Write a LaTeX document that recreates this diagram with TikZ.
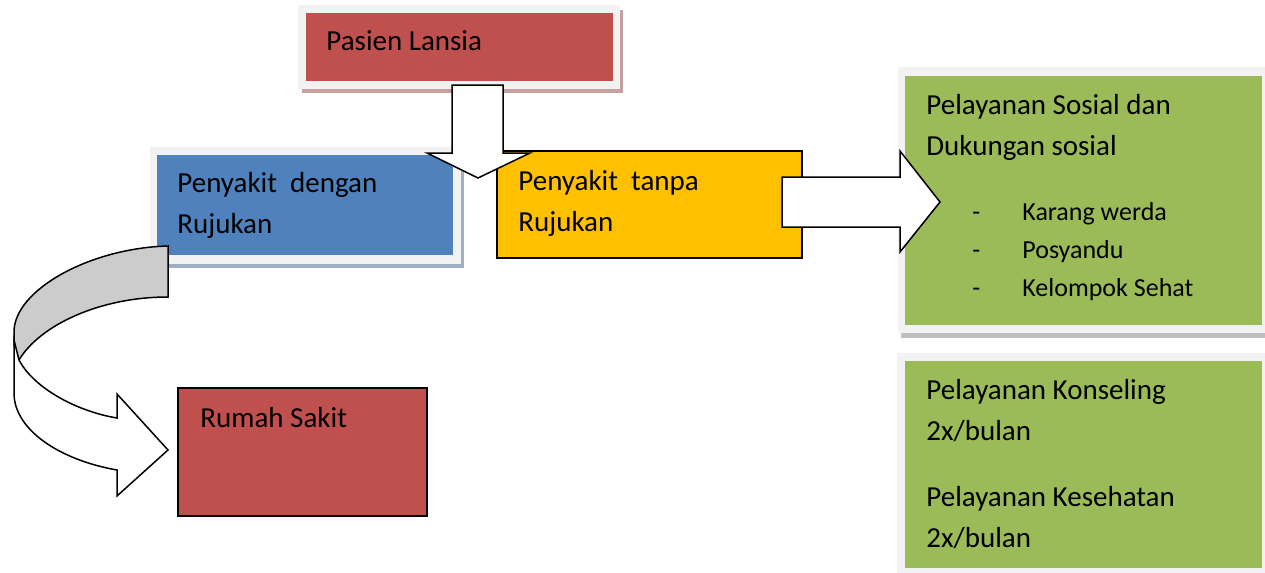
\documentclass[tikz,border=0pt]{standalone}
\usepackage{fontspec}
\setmainfont{Carlito}
\usetikzlibrary{fit}

\definecolor{lansiared}{RGB}{192,80,77}
\definecolor{rujukanblue}{RGB}{79,129,189}
\definecolor{tanpayellow}{RGB}{255,192,0}
\definecolor{sosialgreen}{RGB}{155,187,89}
\definecolor{framegrey}{RGB}{242,242,242}
\definecolor{redshadow}{RGB}{196,160,160}
\definecolor{blueshadow}{RGB}{160,176,196}
\definecolor{greenshadow}{RGB}{191,191,191}
\definecolor{ribbongrey}{RGB}{204,204,204}

\begin{document}
\begin{tikzpicture}[x=0.5pt,y=-0.5pt,
    box/.style={inner sep=0pt, outer sep=0pt},
    outlined/.style={box, draw=black, line width=0.75pt},
    blockarrow/.style={draw=black, fill=white, line width=0.75pt, line join=miter},
    txt/.style={inner sep=0pt, anchor=base west, align=left, font=\fontsize{14.5}{20.5}\selectfont},
    small/.style={inner sep=0pt, anchor=base west, font=\fontsize{13}{19}\selectfont}
  ]

  % The page
  \fill[white] (0,0) rectangle (1265,573);
  \useasboundingbox (0,0) rectangle (1265,573);

  % The boxes
  \fill[redshadow] (302,10) rectangle (623,93);
  \fill[framegrey] (298,5) rectangle (620,89);
  \node[box, fill=lansiared, fit={(306,13) (613,81)}] (pasien) {};

  \fill[blueshadow] (153,151) rectangle (464,268);
  \fill[framegrey] (150,147) rectangle (461,264);
  \node[box, fill=rujukanblue, fit={(157,155) (453,255)}] (dengan) {};

  \node[outlined, fill=tanpayellow, fit={(497,151) (802,258)}] (tanpa) {};

  \fill[greenshadow] (901,71) rectangle (1265,338);
  \fill[framegrey] (898,67) rectangle (1265,333);
  \node[box, fill=sosialgreen, fit={(905,76) (1262,325)}] (sosial) {};

  \fill[framegrey] (897,353) rectangle (1265,573);
  \node[box, fill=sosialgreen, fit={(905,361) (1262,568)}] (konseling) {};

  \node[outlined, fill=lansiared, fit={(178,388) (427,516)}] (rs) {};

  % The arrows
  \draw[blockarrow, fill=ribbongrey] (168,246) .. controls (90,248) and (14,290) .. (14,332)
    -- (14,345) -- (19,360) .. controls (40,325) and (100,297) .. (168,297) -- cycle;
  \draw[blockarrow] (14,340) -- (14,393) .. controls (14,430) and (60,460) .. (117,470)
    -- (117,496) -- (168,450) -- (117,394) -- (117,418) .. controls (80,412) and (35,390) .. (19,360) -- cycle;

  \draw[blockarrow] (452,85) -- (452,153) -- (427,153) -- (478,178) -- (530,153) -- (503,153) -- (503,85) -- cycle;
  \draw[blockarrow] (782,177) -- (900,177) -- (900,151) -- (940,202) -- (900,252) -- (900,227) -- (782,227) -- cycle;

  % The labels (base = last line)
  \node[txt] (pasien text) at (326,50) {Pasien Lansia};
  \node[txt] (dengan text) at (177,233) {Penyakit\ \ dengan\\Rujukan};
  \node[txt] (tanpa text) at (518,231) {Penyakit\ \ tanpa\\Rujukan};
  \node[txt] (rs text) at (200,427) {Rumah Sakit};
  \node[txt] (sosial text) at (926,155) {Pelayanan Sosial dan\\Dukungan sosial};
  \foreach \entry/\y [count=\i] in {Karang werda/220, Posyandu/258, Kelompok Sehat/296} {
    \node[small] (dash \i) at (972,\y) {-};
    \node[small] (entry \i) at (1022,\y) {\entry};
  }
  \node[txt] (konseling text) at (926,440) {Pelayanan Konseling\\2x/bulan};
  \node[txt] (kesehatan text) at (926,547) {Pelayanan Kesehatan\\2x/bulan};
\end{tikzpicture}
\end{document}
